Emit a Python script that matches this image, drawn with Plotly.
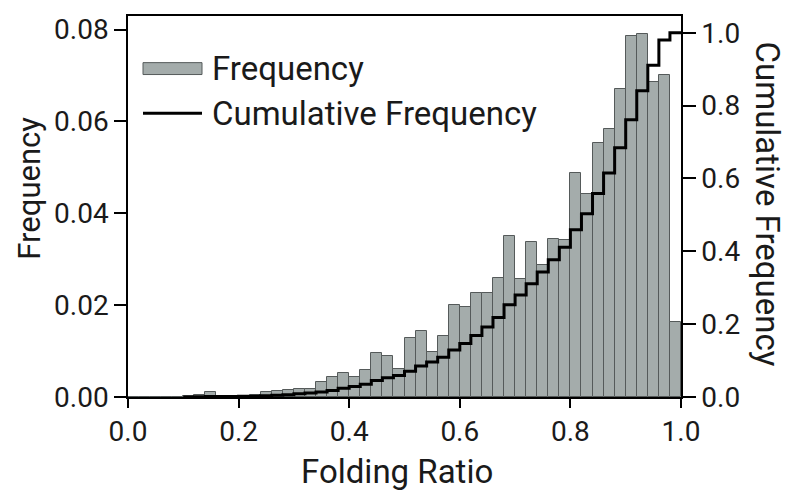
import plotly.graph_objects as go

# ---- data ----
bin_width = 0.02
bin_left = [round(i * 0.02, 2) for i in range(50)]
frequency = [
    0, 0, 0, 0, 0,
    0.0002, 0.0004, 0.0011, 0, 0,
    0.0002, 0.0004, 0.0010, 0.0014, 0.0015,
    0.0017, 0.0017, 0.0032, 0.0043, 0.0052,
    0.0043, 0.0058, 0.0095, 0.0089, 0.0062,
    0.0128, 0.0144, 0.0099, 0.0133, 0.0201,
    0.0195, 0.0227, 0.0226, 0.0259, 0.0350,
    0.0257, 0.0337, 0.0288, 0.0345, 0.0342,
    0.0487, 0.0441, 0.0552, 0.0584, 0.0670,
    0.0786, 0.0791, 0.0686, 0.0702, 0.0164,
]
cum_x = [round(0.10 + i * 0.02, 2) for i in range(45)] + [1.0]
cumulative = [
    0.0002, 0.0006, 0.0017, 0.0017, 0.0017,
    0.0019, 0.0023, 0.0033, 0.0047, 0.0065,
    0.009, 0.011, 0.014, 0.018, 0.024,
    0.029, 0.035, 0.045, 0.053, 0.059,
    0.071, 0.085, 0.096, 0.109, 0.129,
    0.147, 0.169, 0.192, 0.218, 0.253,
    0.280, 0.311, 0.343, 0.377, 0.411,
    0.459, 0.503, 0.559, 0.615, 0.684,
    0.761, 0.841, 0.911, 0.980, 1.000,
]
cumulative = cumulative + [cumulative[-1]]

x_ticks = [0.0, 0.2, 0.4, 0.6, 0.8, 1.0]
y_ticks = [0.00, 0.02, 0.04, 0.06, 0.08]
y2_ticks = [0.0, 0.2, 0.4, 0.6, 0.8, 1.0]

FONT = "Roboto"
TXT = "#1a1a1a"
BAR_FILL = "#a4acab"
BAR_LINE = "#555a5a"

# plot area in window pixels (the page body adds an 8px offset)
OFF = 8
PX0, PX1, PY0, PY1 = 128, 681, 13, 397
PW, PH = PX1 - PX0, PY1 - PY0


def px(x):
    return (x - PX0) / PW


def py(y):
    return (PY1 - y) / PH


fig = go.Figure()
fig.add_trace(go.Bar(
    x=bin_left, y=frequency, width=bin_width, offset=0,
    marker=dict(color=BAR_FILL, line=dict(color=BAR_LINE, width=1)),
    name="Frequency", showlegend=False,
))
fig.add_trace(go.Scatter(
    x=cum_x, y=cumulative, yaxis="y2", mode="lines",
    line=dict(color="black", width=3, shape="hv"),
    name="Cumulative Frequency", showlegend=False,
))

axis_common = dict(
    showgrid=False, zeroline=False, showline=True, linecolor="black",
    linewidth=1.5, ticks="outside", tickcolor="black", tickwidth=1.5,
    tickfont=dict(family=FONT, size=28, color=TXT),
)
fig.update_layout(
    width=800, height=500,
    margin=dict(l=PX0 - OFF, r=800 + OFF - PX1, t=PY0 - OFF, b=500 + OFF - PY1),
    paper_bgcolor="white", plot_bgcolor="white",
    bargap=0,
    xaxis=dict(range=[0, 1], tickvals=x_ticks, ticktext=[f"{v:.1f}" for v in x_ticks],
               ticklen=9, mirror=True, **axis_common),
    yaxis=dict(range=[0, 0.08296], tickvals=y_ticks,
               ticktext=[f"{v:.2f}" for v in y_ticks], ticklen=12, **axis_common),
    yaxis2=dict(range=[0, 1.046], tickvals=y2_ticks,
                ticktext=[f"{v:.1f}" for v in y2_ticks], ticklen=13,
                overlaying="y", side="right", **axis_common),
)

# axis titles
fig.add_annotation(text="Folding Ratio", xref="paper", yref="paper",
                   x=px(397), y=py(472), xanchor="center", yanchor="middle",
                   showarrow=False, font=dict(family=FONT, size=33, color=TXT))
fig.add_annotation(text="Frequency", xref="paper", yref="paper",
                   x=px(30), y=py(187), xanchor="center", yanchor="middle",
                   showarrow=False, textangle=-90, borderpad=0,
                   font=dict(family=FONT, size=31, color=TXT))
fig.add_annotation(text="Cumulative Frequency", xref="paper", yref="paper",
                   x=px(767), y=py(202), xanchor="center", yanchor="middle",
                   showarrow=False, textangle=90,
                   font=dict(family=FONT, size=33, color=TXT))

# legend (drawn manually to match the long swatches)
fig.add_shape(type="rect", xref="paper", yref="paper",
              x0=px(143), x1=px(202), y0=py(72), y1=py(60),
              fillcolor=BAR_FILL, line=dict(color=BAR_LINE, width=1))
fig.add_shape(type="line", xref="paper", yref="paper",
              x0=px(143), x1=px(202), y0=py(111), y1=py(111),
              line=dict(color="black", width=3))
fig.add_annotation(text="Frequency", xref="paper", yref="paper",
                   x=px(210), y=py(66), xanchor="left", yanchor="middle",
                   showarrow=False, font=dict(family=FONT, size=33, color=TXT))
fig.add_annotation(text="Cumulative Frequency", xref="paper", yref="paper",
                   x=px(210), y=py(111), xanchor="left", yanchor="middle",
                   showarrow=False, font=dict(family=FONT, size=33, color=TXT))

fig.write_html("out.html")
